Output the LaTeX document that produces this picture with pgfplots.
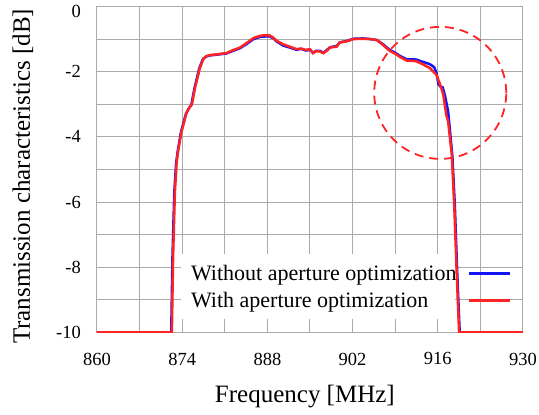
\documentclass[border=0pt]{standalone}
\usepackage{pgfplots}
\pgfplotsset{compat=1.18}
\usepackage{fontspec}
\setmainfont{Liberation Serif}

\definecolor{curveblue}{RGB}{20,20,250}
\definecolor{curvered}{RGB}{255,35,35}
\definecolor{gridgray}{RGB}{170,170,170}

\begin{document}
\begin{tikzpicture}
\begin{axis}[
    scale only axis,
    width=426pt, height=326pt,
    xmin=860, xmax=930,
    ymin=-10, ymax=0,
    xtick={860,874,888,902,916,930},
    xticklabels={860,874,888,902,916,930},
    minor xtick={867,881,895,909,923},
    ytick={-10,-8,-6,-4,-2,0},
    yticklabels={-10,-8,-6,-4,-2,\raisebox{-5pt}[13pt][0pt]{0}},
    minor ytick={-9,-7,-5,-3,-1},
    grid=both,
    major grid style={gridgray, line width=1pt},
    minor grid style={gridgray, line width=1pt},
    axis line style={gridgray, line width=1pt},
    tick style={draw=none},
    ticklabel style={font=\fontsize{18.5}{20}\selectfont},
    yticklabel style={inner sep=0pt, xshift=-16pt},
    xticklabel style={inner sep=0pt, yshift=-20pt},
    xlabel={Frequency [MHz]},
    ylabel={Transmission characteristics [dB]},
    label style={font=\fontsize{25}{28}\selectfont},
    xlabel style={at={(axis description cs:0.488,-0.196)}, anchor=center},
    ylabel style={at={(axis description cs:-0.174,0.479)}, anchor=center, rotate=0},
    legend style={draw=none, fill=none, at={(axis description cs:0.218,0.21)},
        anchor=north west, inner sep=0pt, row sep=8pt, column sep=10pt,
        font=\fontsize{22}{24}\selectfont, nodes={inner sep=1pt}},
    legend cell align=left,
    legend plot pos=right,
    legend image code/.code={\draw[#1] (0pt,0pt) -- (41pt,0pt);},
]

% white box behind the legend text
\fill[white] (axis cs:873.8,-7.58) rectangle (axis cs:918.8,-9.6);

\addplot[curveblue, line width=2.5pt] coordinates {
(860,-10) (872.2,-10) (872.4,-7.7) (872.7,-5.7) (873.0,-4.8) (873.3,-4.4)
(873.8,-3.85) (874.6,-3.3) (875.1,-3.12) (875.5,-3.02) (876.0,-2.52)
(876.8,-1.9) (877.4,-1.61) (878.0,-1.53) (878.6,-1.5) (880,-1.47)
(881.3,-1.44) (882.2,-1.37) (883.5,-1.28) (884.6,-1.15) (885.7,-1.0)
(886.8,-0.93) (887.6,-0.92) (888.4,-0.92) (889.0,-0.98) (889.5,-1.07)
(890.6,-1.2) (891.5,-1.25) (892.8,-1.33) (893.5,-1.3) (894.3,-1.35)
(895.0,-1.33) (895.5,-1.42) (896.0,-1.36) (896.6,-1.36) (897.2,-1.42)
(897.8,-1.33) (898.3,-1.25) (899.4,-1.21) (899.9,-1.1) (901.0,-1.06)
(902.1,-0.99) (903.7,-0.98) (905.0,-1.0) (906.0,-1.03) (907.0,-1.16)
(908.1,-1.33) (909.0,-1.42) (909.8,-1.52) (910.9,-1.62) (912.0,-1.62)
(912.5,-1.63) (913.6,-1.7) (914.7,-1.77) (915.4,-1.86) (915.8,-2.05)
(916.1,-2.38) (916.4,-2.45) (916.8,-2.48) (917.2,-2.75) (917.7,-3.22)
(918.1,-4.0) (918.4,-4.6) (918.8,-6.1) (919.2,-8.2) (919.6,-10) (930,-10)
};
\addlegendentry{Without aperture optimization}

\addplot[curvered, line width=2.5pt] coordinates {
(860,-10) (872.3,-10) (872.5,-7.7) (872.8,-5.68) (873.1,-4.75) (873.4,-4.35)
(873.9,-3.83) (874.7,-3.27) (875.2,-3.1) (875.6,-3.0) (876.1,-2.5)
(876.9,-1.89) (877.5,-1.6) (878.0,-1.52) (878.6,-1.49) (880,-1.46)
(881.3,-1.43) (882.2,-1.35) (883.5,-1.26) (884.6,-1.12) (885.7,-0.97)
(886.8,-0.9) (887.6,-0.88) (888.4,-0.89) (889.0,-0.96) (889.5,-1.05)
(890.6,-1.16) (891.5,-1.22) (892.8,-1.31) (893.5,-1.29) (894.3,-1.33)
(895.0,-1.31) (895.5,-1.43) (896.0,-1.37) (896.6,-1.38) (897.2,-1.43)
(897.8,-1.35) (898.3,-1.26) (899.4,-1.23) (899.9,-1.1) (901.0,-1.07)
(902.1,-1.0) (903.7,-0.99) (905.0,-1.0) (906.0,-1.03) (907.0,-1.18)
(908.1,-1.36) (909.0,-1.45) (909.8,-1.55) (910.9,-1.66) (912.0,-1.67)
(912.5,-1.68) (913.6,-1.78) (914.7,-1.89) (915.8,-2.1) (916.6,-2.51)
(916.9,-2.71) (917.4,-3.33) (917.7,-3.53) (918.3,-4.55) (918.7,-6.08)
(919.1,-8.13) (919.5,-10) (930,-10)
};
\addlegendentry{With aperture optimization}

% dashed circle marking the upper band edge
\draw[curvered, line width=1.8pt, dash pattern=on 9pt off 6pt]
    (axis cs:916.4,-2.65) circle[radius=66pt];

\end{axis}
\useasboundingbox (-97pt,-82pt) rectangle (442pt,331pt);
\end{tikzpicture}
\end{document}
